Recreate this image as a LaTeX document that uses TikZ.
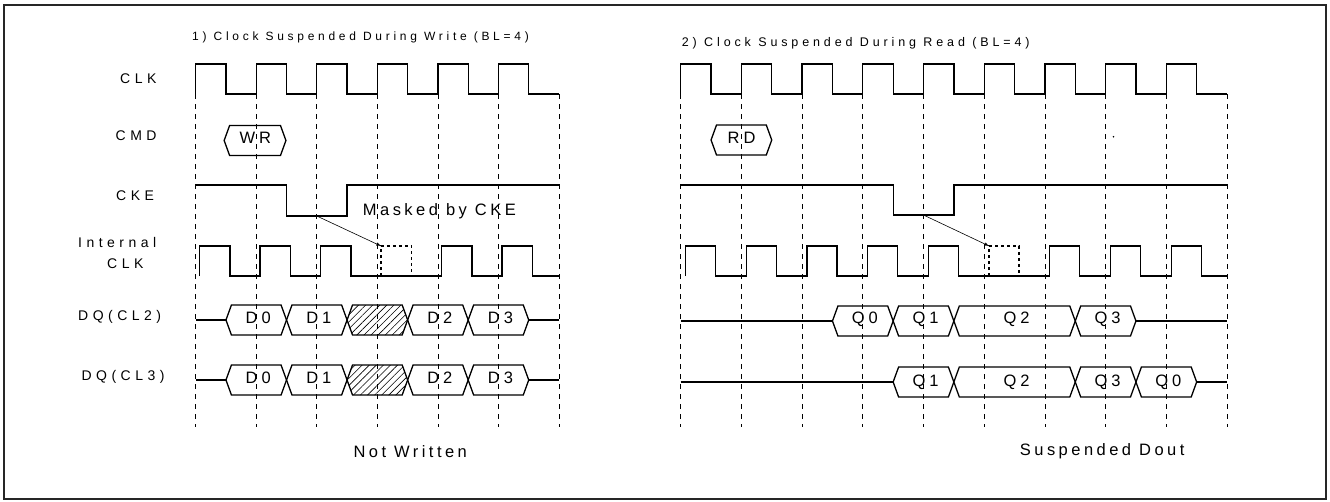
\documentclass[tikz,border=0pt]{standalone}
\usepackage{fontspec}
\setmainfont{Liberation Sans}
\usetikzlibrary{patterns.meta}
\tikzset{>=latex}
\tikzset{
  sig/.style = {line width=1.3pt, line join=miter},
  grid/.style = {line width=.8pt, dash pattern=on 5pt off 5pt},
  lbl/.style = {inner sep=0pt, anchor=west, font=\fontsize{14}{14}\selectfont\addfontfeature{LetterSpace=32}},
  dat/.style = {inner sep=0pt, xshift=2pt, font=\fontsize{16.5}{16.5}\selectfont\addfontfeature{LetterSpace=24}},
  note/.style = {inner sep=0pt, anchor=west, font=\fontsize{16.5}{16.5}\selectfont\addfontfeature{LetterSpace=21}},
  ttl/.style = {inner sep=0pt, anchor=west, font=\fontsize{#1}{#1}\selectfont\addfontfeature{LetterSpace=31}},
  hatch/.style = {pattern={Lines[angle=45,distance=5pt,line width=.6pt]}}
}
\newcommand{\bev}{.09}
% bus value: [style] left, right, y
\newcommand{\hexbox}[4][]{%
  \draw[sig,#1] (#2,#4) -- (#2+\bev,#4-15) -- (#3-\bev,#4-15) -- (#3,#4)
    -- (#3-\bev,#4+15) -- (#2+\bev,#4+15) -- cycle;}

\begin{document}
\begin{tikzpicture}[x=1pt,y=-1pt]
  \useasboundingbox (0,0) rectangle (1330,501);
  % frame
  \draw[line width=1.2pt, black!85] (4,5) rectangle (1326,499);
  % signal names
  \node[lbl] (nClk) at (120,79) {CLK};
  \node[lbl] (nCmd) at (115.5,136) {CMD};
  \node[lbl] (nCke) at (116,196) {CKE};
  \node[lbl] (nInt) at (78,242.7) {Internal};
  \node[lbl] (nIntClk) at (107,264) {CLK};
  \node[lbl] (nDq2) at (78,317) {DQ(CL2)};
  \node[lbl] (nDq3) at (81.4,377) {DQ(CL3)};
  % titles and notes
  \node[ttl=12] (wTitle) at (192,37.3) {1) Clock Suspended During Write (BL=4)};
  \node[ttl=12.5] (rTitle) at (681.7,43.3) {2) Clock Suspended During Read (BL=4)};
  \node[note] (wMask) at (362.7,211.7) {Masked by CKE};
  \node[note] (wNot) at (353.3,451.7) {Not Written};
  \node[note] (rSusp) at (1019.7,451.7) {Suspended Dout};

  % 1) write
  \begin{scope}[shift={(195.7,0)}, x=60.55pt]
    \foreach \k in {0,...,6} \draw[grid] (\k,94) -- (\k,427);
    % clk
    \draw[sig] (0,94) \foreach \k in {0,...,5} { -- (\k,64) -- (\k+.5,64) -- (\k+.5,94) -- (\k+1,94) };
    % cmd
    \hexbox{.47}{1.49}{140.5}
    \node[dat] (wCmd) at (.95,138) {WR};
    % cke
    \draw[sig] (0,185) -- (1.5,185) -- (1.5,216) -- (2.5,216) -- (2.5,185) -- (6,185);
    % internal clk
    \draw[sig] (.06,276) \foreach \k in {0,1,2,4,5} { -- (\k+.06,276) -- (\k+.06,246) -- (\k+.565,246) -- (\k+.565,276) } -- (6,276);
    \draw[sig,dashed] (3.06,276) -- (3.06,246) -- (3.565,246) -- (3.565,276);
    \coordinate (wFrom) at (2,216);
    \coordinate (wTo) at (3.06,246);
    \draw[->, line width=.6pt] (wFrom) -- (wTo);
    % dq
    \foreach \y/\r in {320/a,380/b} {
      \draw[sig] (0,\y) -- (.5,\y);
      \draw[sig] (5.5,\y) -- (6,\y);
      \hexbox[hatch]{2.5}{3.5}{\y}
      \foreach \a/\t [count=\i] in {.5/D0,1.5/D1,3.5/D2,4.5/D3} {
        \hexbox{\a}{\a+1}{\y}
        \node[dat] (w\r\i) at (\a+.5,\y-2) {\t};
      }
    }
  \end{scope}

  % 2) read
  \begin{scope}[shift={(680.7,0)}, x=60.7pt]
    \foreach \k in {0,...,9} \draw[grid] (\k,94) -- (\k,427);
    % clk
    \draw[sig] (0,94) \foreach \k in {0,...,8} { -- (\k,64) -- (\k+.5,64) -- (\k+.5,94) -- (\k+1,94) };
    % cmd
    \hexbox{.5}{1.5}{140}
    \node[dat] (rCmd) at (.97,137.5) {RD};
    \fill (7.13,136.7) circle (.9pt);
    % cke
    \draw[sig] (0,185) -- (3.5,185) -- (3.5,215) -- (4.5,215) -- (4.5,185) -- (9,185);
    % internal clk
    \draw[sig] (.08,276) \foreach \k in {0,1,2,3,4,6,7,8} { -- (\k+.08,276) -- (\k+.08,246) -- (\k+.575,246) -- (\k+.575,276) } -- (9,276);
    \draw[sig,dashed] (5.08,276) -- (5.08,246) -- (5.575,246) -- (5.575,276);
    \coordinate (rFrom) at (4,215);
    \coordinate (rTo) at (5.08,246);
    \draw[->, line width=.6pt] (rFrom) -- (rTo);
    % dq(cl2)
    \draw[sig] (0,321) -- (2.5,321);
    \draw[sig] (7.5,321) -- (9,321);
    \foreach \a/\b/\t [count=\i] in {2.5/3.5/Q0,3.5/4.5/Q1,4.5/6.5/Q2,6.5/7.5/Q3} {
      \hexbox{\a}{\b}{321}
      \node[dat] (ra\i) at ({(\a+\b)/2},319) {\t};
    }
    % dq(cl3)
    \draw[sig] (0,382) -- (3.5,382);
    \draw[sig] (8.5,382) -- (9,382);
    \foreach \a/\b/\t [count=\i] in {3.5/4.5/Q1,4.5/6.5/Q2,6.5/7.5/Q3,7.5/8.5/Q0} {
      \hexbox{\a}{\b}{382}
      \node[dat] (rb\i) at ({(\a+\b)/2},382) {\t};
    }
  \end{scope}
\end{tikzpicture}
\end{document}
